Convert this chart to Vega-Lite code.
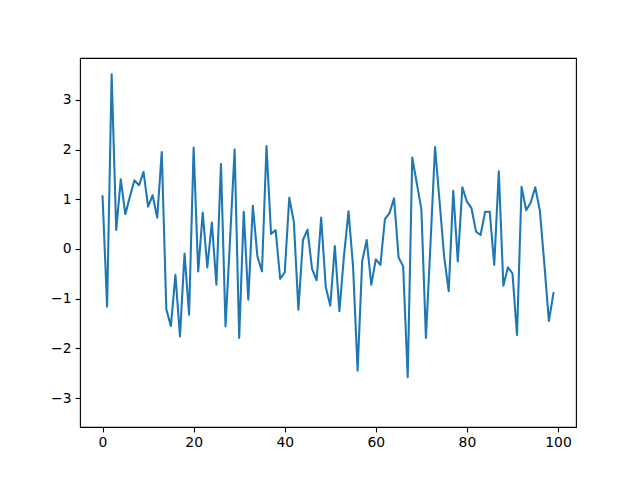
{
  "$schema": "https://vega.github.io/schema/vega-lite/v6.json",
  "width": 496,
  "height": 369,
  "autosize": {"type": "none"},
  "padding": {"left": 80, "top": 58, "right": 64, "bottom": 53},
  "background": "white",
  "config": {
    "view": {"stroke": "black", "strokeWidth": 1.1},
    "axis": {
      "grid": false,
      "domain": false,
      "tickColor": "black",
      "tickSize": 4.9,
      "tickWidth": 1.1,
      "labelFont": "DejaVu Sans",
      "labelFontSize": 13.9,
      "labelColor": "black",
      "labelPadding": 4,
      "title": null
    }
  },
  "data": {
    "values": [
      {"x": 0, "y": 1.06}, {"x": 1, "y": -1.16}, {"x": 2, "y": 3.51}, {"x": 3, "y": 0.38}, {"x": 4, "y": 1.40},
      {"x": 5, "y": 0.70}, {"x": 6, "y": 1.05}, {"x": 7, "y": 1.38}, {"x": 8, "y": 1.28}, {"x": 9, "y": 1.55},
      {"x": 10, "y": 0.85}, {"x": 11, "y": 1.08}, {"x": 12, "y": 0.63}, {"x": 13, "y": 1.95}, {"x": 14, "y": -1.21},
      {"x": 15, "y": -1.55}, {"x": 16, "y": -0.52}, {"x": 17, "y": -1.76}, {"x": 18, "y": -0.09}, {"x": 19, "y": -1.32},
      {"x": 20, "y": 2.04}, {"x": 21, "y": -0.45}, {"x": 22, "y": 0.73}, {"x": 23, "y": -0.37}, {"x": 24, "y": 0.53},
      {"x": 25, "y": -0.72}, {"x": 26, "y": 1.71}, {"x": 27, "y": -1.56}, {"x": 28, "y": 0.2}, {"x": 29, "y": 2.0},
      {"x": 30, "y": -1.79}, {"x": 31, "y": 0.75}, {"x": 32, "y": -1.02}, {"x": 33, "y": 0.87}, {"x": 34, "y": -0.15},
      {"x": 35, "y": -0.45}, {"x": 36, "y": 2.07}, {"x": 37, "y": 0.30}, {"x": 38, "y": 0.38}, {"x": 39, "y": -0.60},
      {"x": 40, "y": -0.47}, {"x": 41, "y": 1.03}, {"x": 42, "y": 0.55}, {"x": 43, "y": -1.22}, {"x": 44, "y": 0.18},
      {"x": 45, "y": 0.39}, {"x": 46, "y": -0.40}, {"x": 47, "y": -0.63}, {"x": 48, "y": 0.63}, {"x": 49, "y": -0.76},
      {"x": 50, "y": -1.14}, {"x": 51, "y": 0.06}, {"x": 52, "y": -1.25}, {"x": 53, "y": -0.15}, {"x": 54, "y": 0.76},
      {"x": 55, "y": -0.35}, {"x": 56, "y": -2.45}, {"x": 57, "y": -0.25}, {"x": 58, "y": 0.18}, {"x": 59, "y": -0.72},
      {"x": 60, "y": -0.21}, {"x": 61, "y": -0.32}, {"x": 62, "y": 0.60}, {"x": 63, "y": 0.72}, {"x": 64, "y": 1.02},
      {"x": 65, "y": -0.17}, {"x": 66, "y": -0.35}, {"x": 67, "y": -2.58}, {"x": 68, "y": 1.84}, {"x": 69, "y": 1.32},
      {"x": 70, "y": 0.80}, {"x": 71, "y": -1.79}, {"x": 72, "y": 0.1}, {"x": 73, "y": 2.05}, {"x": 74, "y": 0.95},
      {"x": 75, "y": -0.15}, {"x": 76, "y": -0.85}, {"x": 77, "y": 1.17}, {"x": 78, "y": -0.25}, {"x": 79, "y": 1.24},
      {"x": 80, "y": 0.95}, {"x": 81, "y": 0.82}, {"x": 82, "y": 0.35}, {"x": 83, "y": 0.28}, {"x": 84, "y": 0.75},
      {"x": 85, "y": 0.75}, {"x": 86, "y": -0.32}, {"x": 87, "y": 1.56}, {"x": 88, "y": -0.74}, {"x": 89, "y": -0.37},
      {"x": 90, "y": -0.49}, {"x": 91, "y": -1.73}, {"x": 92, "y": 1.25}, {"x": 93, "y": 0.78}, {"x": 94, "y": 0.93},
      {"x": 95, "y": 1.24}, {"x": 96, "y": 0.78}, {"x": 97, "y": -0.3}, {"x": 98, "y": -1.45}, {"x": 99, "y": -0.89}
    ]
  },
  "mark": {"type": "line", "color": "#1f77b4", "strokeWidth": 2.08, "strokeCap": "square", "strokeJoin": "round", "clip": true},
  "encoding": {
    "x": {
      "field": "x",
      "type": "quantitative",
      "scale": {"domain": [-4.95, 103.95], "nice": false, "zero": false},
      "axis": {"values": [0, 20, 40, 60, 80, 100], "format": "d"}
    },
    "y": {
      "field": "y",
      "type": "quantitative",
      "scale": {"domain": [-3.58, 3.84], "nice": false, "zero": false},
      "axis": {"values": [-3, -2, -1, 0, 1, 2, 3], "format": "d"}
    }
  }
}
